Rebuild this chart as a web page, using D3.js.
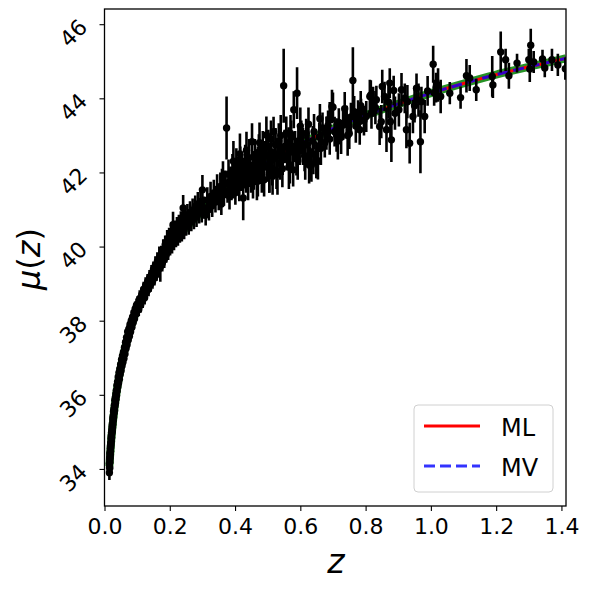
<!DOCTYPE html>
<html><head><meta charset="utf-8">
<script src="https://cdn.jsdelivr.net/npm/d3@7/dist/d3.min.js"></script>
<style>
html,body{margin:0;padding:0;background:#fff;}
svg{display:block;font-family:"DejaVu Sans",sans-serif;}
</style></head>
<body><svg id="chart" width="598" height="589"></svg>
<script>
// ---- data ----
const zVals = [
0.0150,0.0152,0.0155,0.0158,0.0160,0.0163,0.0165,0.0168,0.0170,0.0173,0.0176,0.0180,0.0183,0.0186,0.0190,0.0194,0.0198,0.0202,0.0206,0.0210,
0.0215,0.0220,0.0224,0.0228,0.0233,0.0238,0.0243,0.0248,0.0253,0.0258,0.0264,0.0270,0.0276,0.0282,0.0288,0.0295,0.0302,0.0309,0.0316,0.0323,
0.0330,0.0338,0.0346,0.0354,0.0362,0.0370,0.0380,0.0390,0.0400,0.0410,0.0420,0.0432,0.0444,0.0456,0.0468,0.0480,0.0494,0.0508,0.0522,0.0536,
0.0550,0.0565,0.0580,0.0596,0.0612,0.0628,0.0644,0.0660,0.0676,0.0692,0.0710,0.0728,0.0746,0.0764,0.0782,0.0800,0.0820,0.0840,0.0860,0.0880,
0.0900,0.0920,0.0940,0.0960,0.0980,0.1000,
0.102,0.105,0.108,0.111,0.114,0.117,0.120,0.123,0.126,0.129,0.132,0.135,0.138,0.141,0.144,0.147,0.150,0.153,0.156,0.159,
0.162,0.165,0.168,0.171,0.174,0.177,0.180,0.183,0.186,0.189,0.192,0.195,0.198,0.201,0.204,0.207,0.210,0.213,0.216,0.219,
0.222,0.225,0.228,0.231,0.234,0.237,0.241,0.244,0.247,0.250,0.254,0.258,0.262,0.266,0.270,0.274,0.278,0.282,0.286,0.290,
0.294,0.298,0.300,
0.305,0.310,0.315,0.320,0.325,0.330,0.335,0.340,0.345,0.350,0.355,0.358,0.363,0.366,0.370,0.374,0.377,0.380,0.383,0.386,
0.389,0.392,0.395,0.398,0.401,0.404,0.407,0.410,0.413,0.416,0.419,0.422,0.425,0.428,0.431,0.434,0.437,0.440,0.443,0.446,
0.449,0.452,0.455,0.458,0.461,0.464,0.467,0.470,0.473,0.476,0.479,0.482,0.485,0.488,0.491,0.496,0.499,0.502,0.505,0.508,
0.511,0.514,0.518,0.521,0.524,0.527,0.530,0.534,0.538,0.542,0.546,0.549,0.552,0.557,0.560,0.564,0.568,0.572,0.576,0.578,
0.580,0.584,0.588,0.590,0.594,0.598,
0.603,0.608,0.613,0.618,0.622,0.627,0.629,0.634,0.638,0.642,0.649,0.651,0.654,0.658,0.663,0.668,0.675,0.680,0.685,0.690,
0.697,0.700,0.705,0.711,0.718,0.725,0.731,0.736,0.742,0.750,0.755,0.761,0.765,0.770,0.777,0.782,0.786,0.795,0.802,0.813,
0.816,0.818,0.823,0.833,0.843,0.848,0.851,0.858,0.864,0.874,0.876,0.879,0.886,0.902,0.910,0.925,0.928,0.935,0.945,0.956,
0.962,0.968,0.971,0.981,1.007,1.016,1.022,1.058,1.091,1.109,1.119,1.139,1.188,1.190,1.214,1.229,1.239,1.264,1.300,1.303,
1.306,1.315,1.342,1.349,1.371,1.389,1.412,
0.455,0.470,0.489,0.505,0.515,0.530,0.545,0.565,0.592,0.615,0.360,0.395,0.415,0.435,0.475,0.510,0.540,0.570,0.600,0.625,
0.640,0.660,0.690,0.715,0.745,0.785,0.830,0.870,0.890,0.920,0.950,0.990,1.030,1.010
];
const muVals = [
33.90,34.15,34.05,34.30,34.02,34.25,34.40,34.18,34.45,34.30,34.55,34.38,34.62,34.48,34.70,34.58,34.82,34.66,34.90,34.75,
34.98,34.85,35.06,34.95,35.15,35.02,35.22,35.12,35.35,35.20,35.42,35.30,35.55,35.40,35.62,35.50,35.72,35.58,35.85,35.70,
35.92,35.78,36.02,35.88,36.12,35.98,36.25,36.10,36.35,36.22,36.48,36.32,36.60,36.42,36.70,36.55,36.82,36.65,36.95,36.78,
37.05,36.88,37.15,36.98,37.28,37.10,37.42,37.25,37.55,37.35,37.70,37.48,37.78,37.58,37.90,37.70,38.00,37.82,38.10,37.95,
38.22,38.05,38.32,38.18,38.42,38.28,
38.45,38.30,38.60,38.42,38.70,38.55,38.85,38.62,38.95,38.78,39.05,38.85,39.15,38.98,39.25,39.05,39.38,39.15,39.50,39.28,
39.60,39.38,39.70,39.45,39.78,39.55,39.92,39.65,40.05,39.78,40.15,39.88,40.25,39.98,40.30,40.05,40.59,40.15,40.42,40.22,
40.50,40.28,40.58,40.35,40.65,40.40,41.04,40.48,40.75,40.55,40.85,40.60,40.92,40.68,40.98,40.75,41.08,40.82,41.15,40.90,
41.22,40.95,41.53,
41.05,40.85,41.25,41.00,41.35,41.10,41.45,41.20,41.55,41.30,41.62,41.15,41.85,41.40,41.70,43.20,41.50,41.95,41.35,41.78,
41.55,42.05,41.65,41.90,41.45,42.15,41.75,42.00,41.60,42.25,41.85,42.10,41.31,41.95,42.30,41.80,42.15,41.70,42.40,42.00,
41.85,42.83,42.20,41.95,42.45,42.10,41.75,42.30,42.55,42.05,42.40,41.90,42.62,42.20,42.45,43.01,42.15,42.70,41.95,42.35,
42.55,42.10,43.10,42.40,42.75,42.05,42.50,42.85,42.25,42.60,42.35,44.34,42.70,43.06,42.45,42.80,42.20,42.95,42.55,42.07,
43.69,42.70,42.40,44.14,42.85,42.60,
42.95,42.70,42.45,43.05,42.75,42.20,42.25,42.20,42.85,43.10,42.34,42.29,42.31,42.95,42.65,43.20,42.80,43.06,43.27,42.90,
43.78,43.76,43.10,43.01,43.35,42.95,43.28,43.72,43.40,43.05,43.50,44.48,43.64,43.25,43.55,43.15,43.64,43.40,43.51,44.05,
44.09,43.60,43.91,43.96,43.24,43.37,44.32,44.05,43.15,44.41,43.37,42.88,44.21,43.69,44.23,43.15,43.91,42.79,43.51,44.27,
43.95,42.83,43.91,43.51,44.92,44.29,44.36,44.14,44.02,44.61,44.55,44.23,44.59,44.36,45.25,45.04,44.61,44.95,45.04,44.79,
45.43,44.98,45.06,44.82,45.04,44.90,44.80,
41.75,41.85,41.80,42.00,41.90,41.95,42.10,42.15,42.35,42.30,41.60,42.30,42.50,42.60,42.80,42.90,43.00,43.05,43.25,43.30,
42.50,43.45,43.45,42.85,43.00,43.80,43.75,43.90,43.60,44.00,43.80,44.20,44.05,44.15
];
const muErr = [
0.20,0.18,0.15,0.20,0.17,0.22,0.18,0.16,0.20,0.15,0.19,0.18,0.20,0.16,0.18,0.17,0.21,0.15,0.19,0.18,
0.20,0.16,0.18,0.17,0.19,0.16,0.20,0.18,0.17,0.19,0.18,0.16,0.20,0.17,0.18,0.19,0.17,0.16,0.20,0.18,
0.17,0.19,0.18,0.16,0.20,0.17,0.18,0.19,0.17,0.18,0.20,0.16,0.19,0.17,0.18,0.20,0.17,0.18,0.19,0.16,
0.20,0.18,0.17,0.19,0.18,0.16,0.20,0.18,0.17,0.19,0.18,0.17,0.20,0.16,0.19,0.18,0.17,0.20,0.18,0.17,
0.19,0.18,0.20,0.17,0.18,0.19,
0.20,0.18,0.22,0.20,0.19,0.21,0.20,0.18,0.22,0.20,0.21,0.19,0.22,0.20,0.25,0.19,0.22,0.20,0.24,0.21,
0.25,0.22,0.30,0.40,0.24,0.22,0.28,0.23,0.25,0.22,0.30,0.24,0.26,0.22,0.28,0.24,0.35,0.25,0.28,0.24,
0.30,0.26,0.28,0.25,0.30,0.26,0.35,0.28,0.30,0.26,0.30,0.28,0.30,0.27,0.32,0.28,0.30,0.29,0.32,0.28,
0.30,0.30,0.40,
0.30,0.28,0.35,0.30,0.40,0.30,0.35,0.28,0.40,0.32,0.38,0.30,0.45,0.30,0.35,0.85,0.32,0.40,0.35,0.38,
0.30,0.45,0.35,0.40,0.32,0.50,0.35,0.42,0.38,0.45,0.35,0.40,0.60,0.38,0.45,0.35,0.40,0.45,0.50,0.36,
0.40,0.50,0.38,0.42,0.45,0.38,0.50,0.40,0.48,0.36,0.42,0.45,0.50,0.38,0.40,0.50,0.40,0.45,0.50,0.38,
0.42,0.45,0.40,0.38,0.45,0.50,0.40,0.48,0.45,0.40,0.42,1.00,0.45,0.45,0.40,0.42,0.50,0.45,0.40,0.45,
0.50,0.42,0.48,0.70,0.45,0.40,
0.45,0.50,0.42,0.40,0.45,0.50,0.45,0.45,0.40,0.48,0.50,0.45,0.50,0.40,0.45,0.42,0.40,0.45,0.40,0.42,
0.45,0.40,0.40,0.45,0.38,0.45,0.40,0.45,0.40,0.42,0.38,0.90,0.42,0.45,0.40,0.40,0.35,0.40,0.42,0.45,
0.40,0.42,0.40,0.38,0.50,0.45,0.45,0.40,0.60,0.40,0.50,0.60,0.40,0.45,0.45,0.50,0.45,0.55,0.45,0.40,
0.45,0.85,0.40,0.45,0.50,0.40,0.45,0.30,0.30,0.45,0.35,0.30,0.55,0.35,0.55,0.30,0.35,0.25,0.30,0.35,
0.45,0.30,0.25,0.25,0.30,0.30,0.30,
0.45,0.50,0.45,0.55,0.50,0.55,0.50,0.60,0.55,0.50,0.50,0.55,0.55,0.50,0.55,0.50,0.55,0.50,0.50,0.45,
0.55,0.40,0.45,0.50,0.55,0.40,0.45,0.45,0.45,0.40,0.45,0.40,0.45,0.35
];
// best-fit distance modulus curve (ML, MV)
const modelZ  = [0.015,0.02,0.03,0.05,0.07,0.1,0.15,0.2,0.25,0.3,0.4,0.5,0.6,0.7,0.8,0.9,1.0,1.1,1.2,1.3,1.4,1.414];
const modelMu = [34.07,34.70,35.60,36.74,37.50,38.32,39.27,39.97,40.51,40.97,41.70,42.28,42.77,43.18,43.54,43.85,44.14,44.40,44.64,44.85,45.05,45.08];
const xTicks = [0.0,0.2,0.4,0.6,0.8,1.0,1.2,1.4];
const yTicks = [34,36,38,40,42,44,46];
const legendLabels = ["ML","MV"];

// ---- drawing ----
const svg = d3.select("#chart");
const L = 104.5, R = 566, T = 9, B = 506;
const x = d3.scaleLinear().domain([0, 1.414]).range([L, R]);
const y = d3.scaleLinear().domain([33.0, 46.41]).range([B, T]);

svg.append("defs").append("clipPath").attr("id","clip")
  .append("rect").attr("x",L).attr("y",T).attr("width",R-L).attr("height",B-T);

const plot = svg.append("g").attr("clip-path","url(#clip)");
const model = modelZ.map((z,i)=>[z, modelMu[i]]);
const line = d3.line().x(d=>x(d[0])).y(d=>y(d[1])).curve(d3.curveMonotoneX);

plot.append("path").attr("d", line(model)).attr("fill","none")
  .attr("stroke","#008000").attr("stroke-opacity",0.85).attr("stroke-width",8);
plot.append("path").attr("d", line(model)).attr("fill","none")
  .attr("stroke","#ff0000").attr("stroke-width",3);
plot.append("path").attr("d", line(model)).attr("fill","none")
  .attr("stroke","#0000ff").attr("stroke-opacity",0.8).attr("stroke-width",3)
  .attr("stroke-dasharray","11,5");

const pts = zVals.map((z,i)=>({z, mu: muVals[i], e: muErr[i]}));
plot.append("g").selectAll("line").data(pts).join("line")
  .attr("x1",d=>x(d.z)).attr("x2",d=>x(d.z))
  .attr("y1",d=>y(d.mu - d.e)).attr("y2",d=>y(d.mu + d.e))
  .attr("stroke","#000").attr("stroke-width",2.6);
plot.append("g").selectAll("circle").data(pts).join("circle")
  .attr("cx",d=>x(d.z)).attr("cy",d=>y(d.mu)).attr("r",3.7).attr("fill","#000");

// axes
const xAxis = d3.axisBottom(x).tickValues(xTicks).tickFormat(d3.format(".1f")).tickSize(5).tickPadding(7);
const yAxis = d3.axisLeft(y).tickValues(yTicks).tickFormat(d3.format("d")).tickSize(5);

const gx = svg.append("g").attr("transform",`translate(0,${B})`).call(xAxis);
gx.select(".domain").remove();
gx.selectAll(".tick line").attr("stroke","#000").attr("stroke-width",1.1);
gx.selectAll(".tick text").attr("font-size",22).attr("fill","#000")
  .attr("font-family","DejaVu Sans");

const gy = svg.append("g").attr("transform",`translate(${L},0)`).call(yAxis);
gy.select(".domain").remove();
gy.selectAll(".tick line").attr("stroke","#000").attr("stroke-width",1.1);
gy.selectAll(".tick text").remove();
svg.append("g").selectAll("text").data(yTicks).join("text")
  .attr("transform",d=>`translate(${L-31},${y(d)+9}) rotate(-45)`)
  .attr("text-anchor","middle").attr("dominant-baseline","central")
  .attr("font-size",22).attr("font-family","DejaVu Sans").attr("fill","#000")
  .text(d=>d);

// frame
svg.append("rect").attr("x",L).attr("y",T).attr("width",R-L).attr("height",B-T)
  .attr("fill","none").attr("stroke","#000").attr("stroke-width",1.3);

// labels
svg.append("text").attr("x",336).attr("y",573).attr("text-anchor","middle")
  .attr("font-size",33).attr("font-style","italic").attr("font-family","DejaVu Sans")
  .text("z");
const yl = svg.append("text").attr("transform","translate(40,259) rotate(-90)")
  .attr("text-anchor","middle").attr("font-size",32).attr("font-family","DejaVu Sans");
yl.append("tspan").attr("font-style","italic").text("μ");
yl.append("tspan").text("(");
yl.append("tspan").attr("font-style","italic").text("z");
yl.append("tspan").text(")");

// legend
const lg = svg.append("g");
lg.append("rect").attr("x",414).attr("y",405).attr("width",139).attr("height",87)
  .attr("rx",4).attr("fill","#fff").attr("fill-opacity",0.8)
  .attr("stroke","#d0d0d0").attr("stroke-width",1);
const legendStyles = [
  {color:"#ff0000", opacity:1, dash:null},
  {color:"#0000ff", opacity:0.8, dash:"11,5"}
];
legendLabels.forEach((lab,i)=>{
  const yy = 426 + i*40;
  const st = legendStyles[i];
  const ln = lg.append("line").attr("x1",424).attr("x2",480).attr("y1",yy).attr("y2",yy)
    .attr("stroke",st.color).attr("stroke-opacity",st.opacity).attr("stroke-width",3);
  if (st.dash) ln.attr("stroke-dasharray",st.dash);
  lg.append("text").attr("x",501).attr("y",yy+10).attr("font-size",24)
    .attr("font-family","DejaVu Sans").attr("fill","#000").text(lab);
});
</script></body></html>
